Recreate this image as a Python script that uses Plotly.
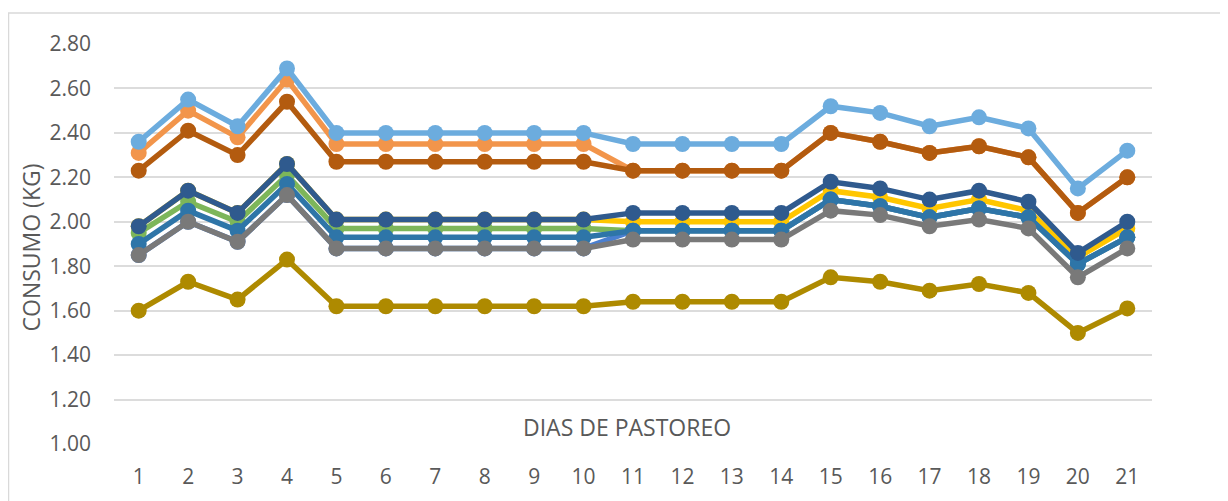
import plotly.graph_objects as go

days = list(range(1, 22))
day_labels = [str(d) for d in days]

light_blue = [2.36, 2.55, 2.43, 2.69, 2.40, 2.40, 2.40, 2.40, 2.40, 2.40, 2.35, 2.35, 2.35, 2.35, 2.52, 2.49, 2.43, 2.47, 2.42, 2.15, 2.32]
orange = [2.31, 2.50, 2.38, 2.64, 2.35, 2.35, 2.35, 2.35, 2.35, 2.35, 2.23, 2.23, 2.23, 2.23, 2.40, 2.36, 2.31, 2.34, 2.29, 2.04, 2.20]
dark_orange = [2.23, 2.41, 2.30, 2.54, 2.27, 2.27, 2.27, 2.27, 2.27, 2.27, 2.23, 2.23, 2.23, 2.23, 2.40, 2.36, 2.31, 2.34, 2.29, 2.04, 2.20]
navy = [1.98, 2.14, 2.04, 2.26, 2.01, 2.01, 2.01, 2.01, 2.01, 2.01, 2.04, 2.04, 2.04, 2.04, 2.18, 2.15, 2.10, 2.14, 2.09, 1.86, 2.00]
yellow = [1.98, 2.14, 2.04, 2.26, 2.01, 2.01, 2.01, 2.01, 2.01, 2.01, 2.00, 2.00, 2.00, 2.00, 2.14, 2.11, 2.06, 2.10, 2.05, 1.84, 1.97]
green = [1.95, 2.09, 2.00, 2.21, 1.97, 1.97, 1.97, 1.97, 1.97, 1.97, 1.96, 1.96, 1.96, 1.96, 2.10, 2.07, 2.02, 2.06, 2.02, 1.81, 1.93]
teal = [1.90, 2.05, 1.96, 2.17, 1.93, 1.93, 1.93, 1.93, 1.93, 1.93, 1.96, 1.96, 1.96, 1.96, 2.10, 2.07, 2.02, 2.06, 2.02, 1.81, 1.93]
mid_blue = [1.85, 2.00, 1.91, 2.12, 1.88, 1.88, 1.88, 1.88, 1.88, 1.88, 1.96, 1.96, 1.96, 1.96, 2.10, 2.07, 2.02, 2.06, 2.02, 1.81, 1.93]
gray = [1.85, 2.00, 1.91, 2.12, 1.88, 1.88, 1.88, 1.88, 1.88, 1.88, 1.92, 1.92, 1.92, 1.92, 2.05, 2.03, 1.98, 2.01, 1.97, 1.75, 1.88]
gold = [1.60, 1.73, 1.65, 1.83, 1.62, 1.62, 1.62, 1.62, 1.62, 1.62, 1.64, 1.64, 1.64, 1.64, 1.75, 1.73, 1.69, 1.72, 1.68, 1.50, 1.61]

y_ticks = [1.0, 1.2, 1.4, 1.6, 1.8, 2.0, 2.2, 2.4, 2.6, 2.8]
y_tick_labels = ["1.00", "1.20", "1.40", "1.60", "1.80", "2.00", "2.20", "2.40", "2.60", "2.80"]

# draw order: bottom to top
series = [
    ("Serie 2", orange, "#F2954B"),
    ("Serie 3", dark_orange, "#B35B0F"),
    ("Serie 1", light_blue, "#6CACDE"),
    ("Serie 4", yellow, "#FFC600"),
    ("Serie 5", green, "#7DB65A"),
    ("Serie 6", mid_blue, "#4A7FD0"),
    ("Serie 7", teal, "#2E75A8"),
    ("Serie 8", gray, "#797979"),
    ("Serie 9", navy, "#2F5A8E"),
    ("Serie 10", gold, "#AE8A00"),
]

fig = go.Figure()
for name, vals, col in series:
    fig.add_trace(go.Scatter(
        x=days, y=vals, name=name, mode="lines+markers",
        line=dict(color=col, width=5.5),
        marker=dict(color=col, size=16, line=dict(width=0)),
        showlegend=False,
    ))

# page body has an 8px margin; figure is sized to fit the 1228x501 window
W, H = 1220, 493
L, T, R, B = 106, 36, 76, 57
PW, PH = W - L - R, H - T - B


def px_x(px):
    return (px - L) / PW


def px_y(py):
    return (H - B - py) / PH


text_color = "#595959"
fig.update_layout(
    width=W, height=H,
    margin=dict(l=L, r=R, t=T, b=B),
    paper_bgcolor="white", plot_bgcolor="white",
    font=dict(family="Open Sans", color=text_color, size=21),
    xaxis=dict(
        range=[0.5, 21.5], tickvals=days, ticktext=day_labels,
        showgrid=False, zeroline=False, showline=False, ticks="",
        ticklabelstandoff=18, tickfont=dict(size=21, color=text_color),
    ),
    yaxis=dict(
        range=[1.0, 2.8], tickvals=y_ticks, ticktext=y_tick_labels,
        showgrid=True, gridcolor="#DCDCDC", gridwidth=1.5,
        zeroline=False, showline=False, ticks="",
        ticklabelstandoff=22, tickfont=dict(size=21, color=text_color),
    ),
    annotations=[
        dict(text="CONSUMO (KG)", xref="paper", yref="paper",
             x=px_x(22.5), y=px_y(240), textangle=-90,
             showarrow=False, xanchor="center", yanchor="middle",
             font=dict(size=23, color=text_color)),
        dict(text="DIAS DE PASTOREO", xref="paper", yref="paper",
             x=px_x(619), y=px_y(418.5),
             showarrow=False, xanchor="center", yanchor="middle",
             font=dict(size=23, color=text_color)),
    ],
    shapes=[
        dict(type="rect", xref="paper", yref="paper",
             x0=px_x(0.5), x1=px_x(1240),
             y0=px_y(520), y1=px_y(5),
             line=dict(color="#D9D9D9", width=1.5), fillcolor="rgba(0,0,0,0)",
             layer="below"),
    ],
)

fig.write_html("out.html")
